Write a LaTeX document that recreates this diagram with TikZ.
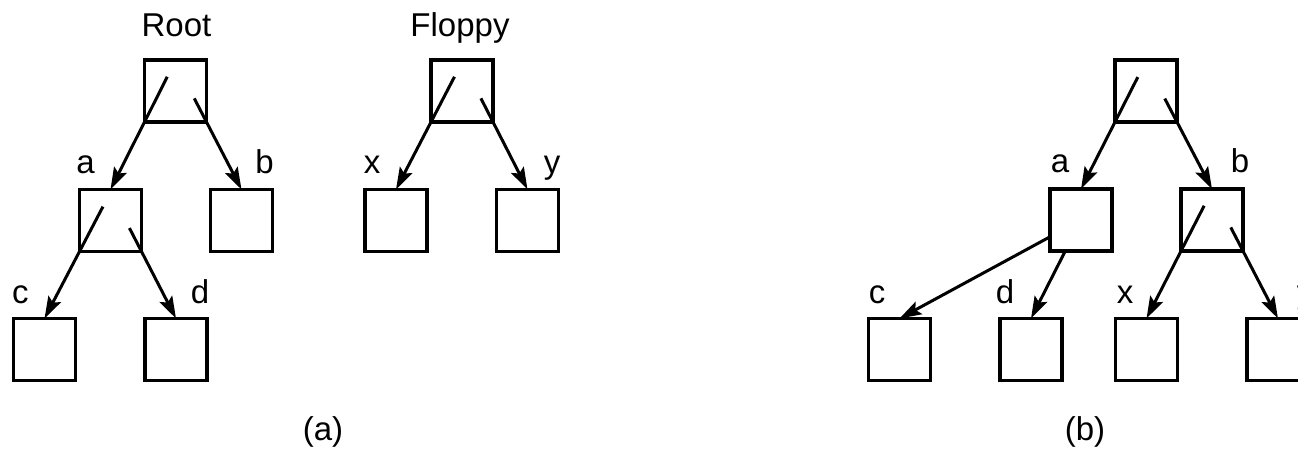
\documentclass[tikz,border=0pt]{standalone}
\usepackage{fontspec}
\setmainfont{Liberation Sans}
\usetikzlibrary{arrows.meta,calc}
\begin{document}
\begin{tikzpicture}[x=1pt,y=-1pt,
  box/.style={draw,line width=3.2pt,minimum size=62pt,inner sep=0pt,outer sep=0pt},
  lbl/.style={font=\fontsize{33}{40}\selectfont,anchor=base,inner sep=0pt},
  arr/.style={line width=3pt,-{Stealth[length=22pt,width=14pt,inset=4pt]}},
]
\useasboundingbox (0,0) rectangle (1298,451);
\clip (0,0) rectangle (1298,451);
% ---------- (a) ----------
\node[box] (R)  at (175.5,91) {};
\node[box] (A)  at (110.5,220.5) {};
\node[box] (B)  at (241.5,220.5) {};
\node[box] (C)  at (44.5,349.5) {};
\node[box] (D)  at (176,349.5) {};
\node[box] (F)  at (462,91) {};
\node[box] (X)  at (396,220.5) {};
\node[box] (Y)  at (527.5,220.5) {};
\node[lbl] (lroot) at (176.5,36) {Root};
\node[lbl] (lflop) at (460,36) {Floppy};
\node[lbl] (la) at (85.5,173) {a};
\node[lbl] (lb) at (264.5,173) {b};
\node[lbl] (lc) at (20.5,303) {c};
\node[lbl] (ld) at (200,303) {d};
\node[lbl] (lx) at (372,173) {x};
\node[lbl] (ly) at (552,173) {y};
\node[lbl] (capa) at (323,440) {(a)};
\draw[arr] ($(R.south west)!-0.67!(A.north)$) -- (A.north);
\draw[arr] ($(R.south east)!-0.35!(B.north)$) -- (B.north);
\draw[arr] ($(A.south west)!-0.67!(C.north)$) -- (C.north);
\draw[arr] ($(A.south east)!-0.35!(D.north)$) -- (D.north);
\draw[arr] ($(F.south west)!-0.67!(X.north)$) -- (X.north);
\draw[arr] ($(F.south east)!-0.35!(Y.north)$) -- (Y.north);
% ---------- (b) ----------
\node[box] (rR) at (1146,91) {};
\node[box] (rA) at (1081,220) {};
\node[box] (rB) at (1212,220) {};
\node[box] (rC) at (899.5,349.5) {};
\node[box] (rD) at (1031,349.5) {};
\node[box] (rX) at (1146.5,349.5) {};
\node[box] (rY) at (1278,349.5) {};
\node[lbl] (rla) at (1060,172) {a};
\node[lbl] (rlb) at (1240,172) {b};
\node[lbl] (rlc) at (877,303) {c};
\node[lbl] (rld) at (1005,303) {d};
\node[lbl] (rlx) at (1125,303) {x};
\node[lbl] (rly) at (1305,303) {y};
\node[lbl] (capb) at (1085,440) {(b)};
\draw[arr] ($(rR.south west)!-0.67!(rA.north)$) -- (rA.north);
\draw[arr] ($(rR.south east)!-0.35!(rB.north)$) -- (rB.north);
\draw[arr] (rA) -- (rC.north);
\draw[arr] (rA) -- (rD.north);
\draw[arr] ($(rB.south west)!-0.67!(rX.north)$) -- (rX.north);
\draw[arr] ($(rB.south east)!-0.35!(rY.north)$) -- (rY.north);
\end{tikzpicture}
\end{document}
